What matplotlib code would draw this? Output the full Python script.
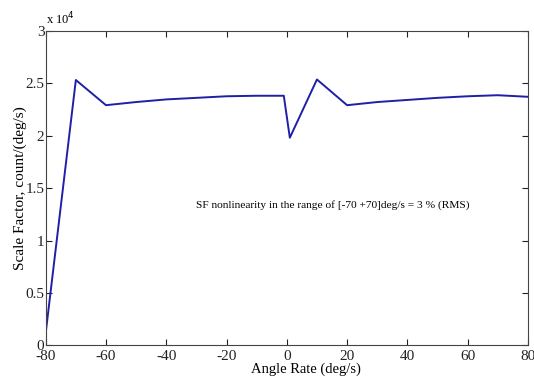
import matplotlib
matplotlib.use("Agg")
import matplotlib.pyplot as plt

angle_rate = [-80, -70, -60, -50, -40, -30, -20, -10, -1, 1, 10, 20, 30, 40, 50, 60, 70, 80]
scale_factor = [0.12, 2.53, 2.29, 2.32, 2.345, 2.36, 2.375, 2.38, 2.38, 1.98, 2.535,
                2.29, 2.32, 2.34, 2.36, 2.375, 2.385, 2.37]  # x 10^4
x_ticks = [-80, -60, -40, -20, 0, 20, 40, 60, 80]
y_ticks = [0, 0.5, 1, 1.5, 2, 2.5, 3]
y_tick_labels = ["0", "0.5", "1", "1.5", "2", "2.5", "3"]

plt.rcParams['font.family'] = ['Liberation Serif', 'DejaVu Serif']
plt.rcParams['font.size'] = 11

fig = plt.figure(figsize=(5.34, 3.77), dpi=100)
ax = fig.add_axes([0.0856, 0.0836, 0.903, 0.835])
ax.plot(angle_rate, scale_factor, color='#1f1fa8', linewidth=1.4)
ax.set_xlim(-80, 80)
ax.set_ylim(0, 3)
ax.set_xticks(x_ticks)
ax.set_xticklabels([str(v) for v in x_ticks])
ax.set_yticks(y_ticks)
ax.set_yticklabels(y_tick_labels)
ax.tick_params(direction='in', top=True, right=True, length=4, width=0.8, colors='#222222', labelsize=11)
ax.tick_params(axis='x', pad=3)
ax.tick_params(axis='y', pad=1)
for s in ax.spines.values():
    s.set_linewidth(0.8)
    s.set_color('#444444')
ax.set_xlabel('Angle Rate (deg/s)', fontsize=10.5, va='center')
ax.xaxis.set_label_coords(0.54, -0.075)
ax.set_ylabel('Scale Factor, count/(deg/s)', fontsize=11, labelpad=-1)
ax.text(0.0, 1.012, r'x 10$^4$', transform=ax.transAxes, ha='left', va='bottom', fontsize=9)
ax.text(-30, 1.34, 'SF nonlinearity in the range of [-70 +70]deg/s = 3 % (RMS)', ha='left', va='center', fontsize=8.2)
fig.savefig('out.png', dpi=100)
